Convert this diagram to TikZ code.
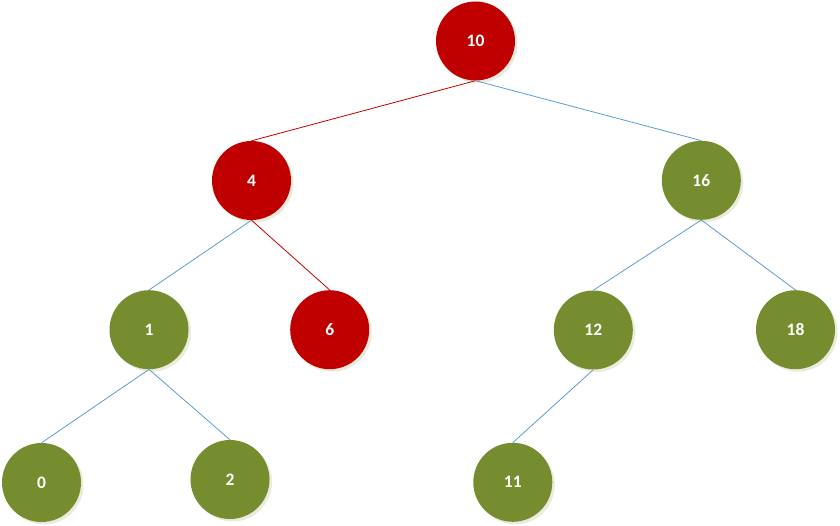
\documentclass[tikz,border=0pt]{standalone}
\usepackage{fontspec}
\setmainfont{Carlito}
\usetikzlibrary{shadows}
\definecolor{rednode}{HTML}{C00000}
\definecolor{greennode}{HTML}{758C2F}
\definecolor{blueline}{HTML}{5B9BD5}
\definecolor{shadowc}{HTML}{EAEBDC}
\begin{document}
\begin{tikzpicture}[x=1pt,y=-1pt,
  tnode/.style={circle, minimum size=79pt, inner sep=0pt, text=white,
    font=\bfseries\fontsize{17.5}{20}\selectfont,
    general shadow={fill=shadowc, shadow xshift=2.5pt, shadow yshift=-2.5pt}},
  rnode/.style={tnode, fill=rednode},
  gnode/.style={tnode, fill=greennode},
  redge/.style={draw=rednode, line width=0.8pt},
  bedge/.style={draw=blueline, line width=0.8pt}]
\useasboundingbox (0,0) rectangle (840,526);
\node[rnode] (n10) at (475.5,41) {10};
\node[rnode] (n4) at (251.5,180.5) {4};
\node[gnode] (n16) at (701.3,180.3) {16};
\node[gnode] (n1) at (149,329.7) {1};
\node[rnode] (n6) at (329.7,329.7) {6};
\node[gnode] (n12) at (593.3,330) {12};
\node[gnode] (n18) at (795.5,329.7) {18};
\node[gnode] (n0) at (41.5,482.5) {0};
\node[gnode] (n2) at (230,479.5) {2};
\node[gnode] (n11) at (512.8,482.3) {11};
\draw[redge] (n10.south) -- (n4.north);
\draw[bedge] (n10.south) -- (n16.north);
\draw[bedge] (n4.south) -- (n1.north);
\draw[redge] (n4.south) -- (n6.north);
\draw[bedge] (n16.south) -- (n12.north);
\draw[bedge] (n16.south) -- (n18.north);
\draw[bedge] (n1.south) -- (n0.north);
\draw[bedge] (n1.south) -- (n2.north);
\draw[bedge] (n12.south) -- (n11.north);
\end{tikzpicture}
\end{document}
